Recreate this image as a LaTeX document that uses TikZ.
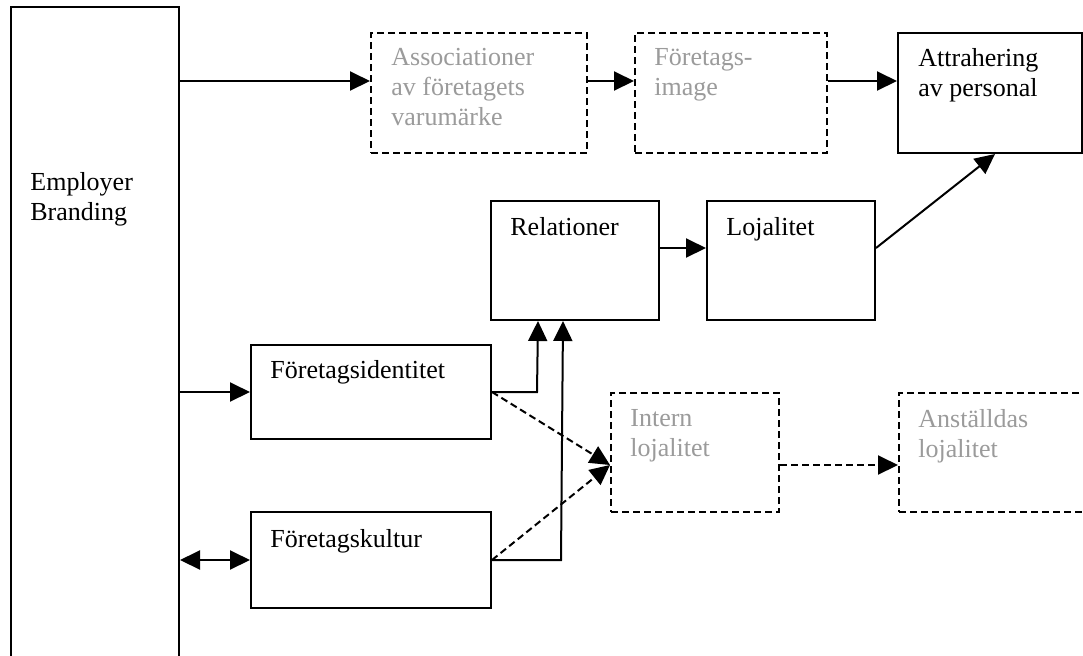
\documentclass[tikz,border=0pt]{standalone}
\usepackage{fontspec}
\setmainfont{Liberation Serif}
\usetikzlibrary{arrows.meta}
\definecolor{lightgraytext}{RGB}{155,155,155}
\tikzset{
  x=0.5pt, y=-0.5pt,
  box/.style={draw, line width=1pt, rectangle, inner sep=0pt},
  dbox/.style={box, dash pattern=on 3.5pt off 2pt},
  txt/.style={anchor=north west, inner sep=0pt, align=left,
    font=\fontsize{13pt}{15pt}\selectfont},
  gtxt/.style={txt, text=lightgraytext},
  arr/.style={line width=1pt, -{Triangle[length=10pt,width=9.5pt]}},
  darr/.style={arr, dash pattern=on 3.5pt off 2pt},
  biarr/.style={line width=1pt, {Triangle[length=10pt,width=9.5pt]}-{Triangle[length=10pt,width=9.5pt]}}
}
\begin{document}
\begin{tikzpicture}
\useasboundingbox (0,0) rectangle (1083,655);
\clip (0,0) rectangle (1083,655);
\fill[white] (0,0) rectangle (1083,655);
% boxes
\node[box, minimum width=84pt, minimum height=331.5pt] (EB) at (95,338.5) {};
\node[dbox, minimum width=108pt, minimum height=60pt] (assoc) at (479,93) {};
\node[dbox, minimum width=96pt, minimum height=60pt] (image) at (731,93) {};
\node[box, minimum width=92pt, minimum height=60pt] (attr) at (990,93) {};
\node[box, minimum width=84pt, minimum height=59.5pt] (rel) at (575,260.5) {};
\node[box, minimum width=84pt, minimum height=59.5pt] (loj) at (791,260.5) {};
\node[box, minimum width=120pt, minimum height=47pt] (fid) at (371,392) {};
\node[box, minimum width=120pt, minimum height=48pt] (fku) at (371,560) {};
\node[dbox, minimum width=84pt, minimum height=59.5pt] (intern) at (695,452.5) {};
\node[dbox, minimum width=100.5pt, minimum height=59.5pt] (anst) at (999.5,452.5) {};
% texts
\node[txt] (EBt) at ([shift={(20,166)}]EB.north west) {Employer\\Branding};
\node[gtxt] (assoct) at ([shift={(21,16)}]assoc.north west) {Associationer\\av företagets\\varumärke};
\node[gtxt] (imaget) at ([shift={(20,16)}]image.north west) {Företags-\\image};
\node[txt] (attrt) at ([shift={(21,16)}]attr.north west) {Attrahering\\av personal};
\node[txt] (relt) at ([shift={(20,17)}]rel.north west) {Relationer};
\node[txt] (lojt) at ([shift={(20,17)}]loj.north west) {Lojalitet};
\node[txt] (fidt) at ([shift={(20,16)}]fid.north west) {Företagsidentitet};
\node[txt] (fkut) at ([shift={(20,18)}]fku.north west) {Företagskultur};
\node[gtxt] (internt) at ([shift={(20,17)}]intern.north west) {Intern\\lojalitet};
\node[gtxt] (anstt) at ([shift={(20,17)}]anst.north west) {Anställdas\\lojalitet};
% connectors
\coordinate (a1) at ([yshift=6pt]assoc.west);
\draw[arr] (EB.east |- a1) -- (a1);
\draw[arr] ([yshift=6pt]assoc.east) -- ([yshift=6pt]image.west);
\draw[arr] ([yshift=6pt]image.east) -- ([yshift=6pt]attr.west);
\draw[arr] ([yshift=6.25pt]rel.east) -- ([yshift=6.25pt]loj.west);
\draw[arr] ([yshift=6.25pt]loj.east) -- ([xshift=2.5pt]attr.south);
\draw[arr] (EB.east |- fid.west) -- (fid.west);
\draw[biarr] (EB.east |- fku.west) -- (fku.west);
\draw[arr] (fid.east) -- ++(45,0) -- ([xshift=-18.5pt]rel.south);
\draw[arr] (fku.east) -- ++(69,0) -- ([xshift=-6pt]rel.south);
\draw[darr] (fid.east) -- ([yshift=-6.25pt]intern.west);
\draw[darr] (fku.east) -- ([yshift=-6.25pt]intern.west);
\draw[darr] ([yshift=-6.25pt]intern.east) -- ([yshift=-6.25pt]anst.west);
\end{tikzpicture}
\end{document}
